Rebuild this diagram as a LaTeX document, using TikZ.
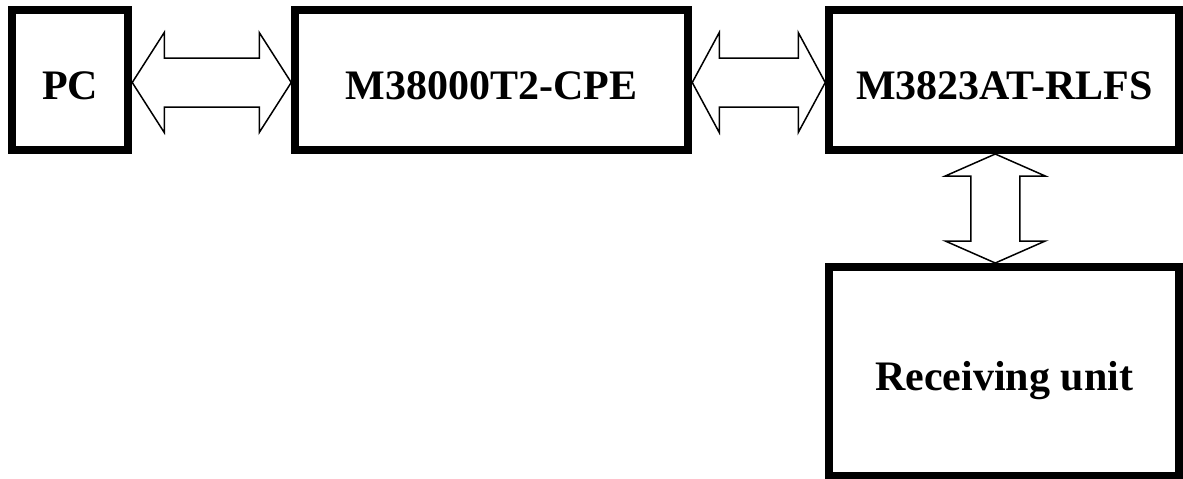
\documentclass[tikz,border=0pt]{standalone}
\usepackage{fontspec}
\setmainfont{Liberation Serif}
\usetikzlibrary{positioning,calc}

\begin{document}
\begin{tikzpicture}[x=0.5pt,y=-0.5pt]

	\tikzstyle{block}=[rectangle,draw=black,line width=4pt,inner sep=0pt,minimum height=70pt,
		font=\fontsize{21}{25}\selectfont\bfseries,text height=19pt,text depth=0pt]
	\tikzset{
		busline/.style={draw=black,line width=0.75pt,line join=miter},
		% hollow two-headed bus arrow, #1 = head length
		hbus/.style={busline,to path={let \p1=(\tikztostart),\p2=(\tikztotarget) in
			(\p1) -- (\x1+#1,\y1+25pt) -- (\x1+#1,\y1+12.25pt) -- (\x2-#1,\y1+12.25pt) -- (\x2-#1,\y1+25pt)
			-- (\p2) -- (\x2-#1,\y1-25pt) -- (\x2-#1,\y1-12.25pt) -- (\x1+#1,\y1-12.25pt) -- (\x1+#1,\y1-25pt) -- cycle}},
		hbus/.default=16pt,
		vbus/.style={busline,to path={let \p1=(\tikztostart),\p2=(\tikztotarget) in
			(\p1) -- (\x1+25pt,\y1-#1) -- (\x1+12.25pt,\y1-#1) -- (\x1+12.25pt,\y2+#1) -- (\x1+25pt,\y2+#1)
			-- (\p2) -- (\x1-25pt,\y2+#1) -- (\x1-12.25pt,\y2+#1) -- (\x1-12.25pt,\y1-#1) -- (\x1-25pt,\y1-#1) -- cycle}},
		vbus/.default=11pt
	}

	\useasboundingbox (0,0) rectangle (1183,478);

		\node [block,minimum width=58.25pt] (pc) at (70,80) {PC};
		\node [block,minimum width=196.5pt] (cpe) [right=79.5pt of pc] {M38000T2-CPE};
		\node [block,minimum width=175pt] (rlfs) [right=66.5pt of cpe] {M3823AT-RLFS};
		\node [block,minimum width=175pt,minimum height=104.5pt] (recv) [below=54.5pt of rlfs] {Receiving unit};

		\draw [hbus=16pt] ([yshift=-1.25pt]pc.east) to ([yshift=-1.25pt]cpe.west);
		\draw [hbus=13.5pt] ([yshift=-1.25pt]cpe.east) to ([yshift=-1.25pt]rlfs.west);
		\draw [vbus] ([xshift=-4.5pt]rlfs.south) to ([xshift=-4.5pt]recv.north);
\end{tikzpicture}
\end{document}
